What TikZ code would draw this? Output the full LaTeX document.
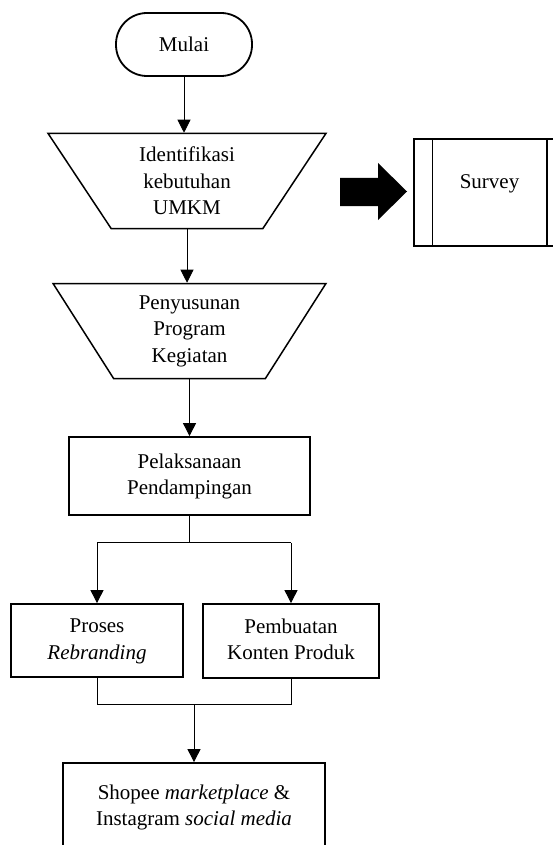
\documentclass[tikz,border=0pt]{standalone}
\usepackage{fontspec}
\setmainfont{Liberation Serif}
\usetikzlibrary{shapes.geometric,arrows.meta}

\begin{document}
\begin{tikzpicture}
            [x=1pt,y=-1pt,auto=left,
             every node/.style={font=\fontsize{21}{26.5}\selectfont,align=center,inner sep=0pt},
             start/.style={draw,line width=1.8pt,rounded corners=31pt,minimum width=136pt,minimum height=63pt},
             manual/.style={draw,line width=1.5pt,trapezium,shape border rotate=180,trapezium stretches=true,minimum height=95pt},
             box/.style={draw,line width=1.8pt},
             link/.style={line width=0.9pt},
             go/.style={link,-{Triangle[width=13pt,length=13pt]}}]
            \clip (0,0) rectangle (553,845);
            \fill[white] (0,0) rectangle (553,845);

            \node[start] (Mulai) at (184,44.5) {Mulai};
            \node[manual,trapezium angle=59.7,minimum width=278pt] (Ident) at (187,181) {Identifikasi\\kebutuhan\\UMKM};
            \node[manual,trapezium angle=60.4,minimum width=273pt] (Susun) at (189.5,331) {Penyusunan\\Program\\Kegiatan};
            \node[box,minimum width=241pt,minimum height=78pt] (Laks) at (189.5,476) {\strut Pelaksanaan\\Pendampingan\strut};
            \node[box,minimum width=172pt,minimum height=73pt] (Brand) at (97,640.5) {\strut Proses\\\textit{Rebranding}\strut};
            \node[box,minimum width=176pt,minimum height=74pt] (Konten) at (291,641) {\strut Pembuatan\\Konten Produk\strut};
            \node[box,minimum width=262pt,minimum height=88pt] (Shop) at (194,807) {\strut Shopee \textit{marketplace} \&\\Instagram \textit{social media}\strut};
            \node[box,line width=1.5pt,minimum width=151pt,minimum height=107pt,text height=15pt,text depth=24pt] (Survey) at (489.5,192.5) {Survey};

            % survey side bars
            \draw[line width=1.5pt] ([xshift=19pt]Survey.north west) -- ([xshift=19pt]Survey.south west);
            \draw[line width=1.5pt] ([xshift=-19pt]Survey.north east) -- ([xshift=-19pt]Survey.south east);

            % block arrow
            \fill (340,178) -- (378,178) -- (378,163) -- (407,191.5) -- (378,220) -- (378,206) -- (340,206) -- cycle;

            \draw[go] (Mulai.south) -- (Mulai.south |- Ident.north);
            \draw[go] (Ident.south) -- (Ident.south |- Susun.north);
            \draw[go] (Susun.south) -- (Susun.south |- Laks.north);

            \draw[link] (Laks.south) -- ++(0,27) coordinate (Split);
            \draw[link] (Split -| Brand.north) -- (Split -| Konten.north);
            \draw[go] (Split -| Brand.north) -- (Brand.north);
            \draw[go] (Split -| Konten.north) -- (Konten.north);

            \draw[link] (Brand.south) -- ++(0,27) coordinate (Join) -- (Join -| Konten.south) -- (Konten.south);
            \draw[go] (Join -| Shop.north) -- (Shop.north);
        \end{tikzpicture}
\end{document}
